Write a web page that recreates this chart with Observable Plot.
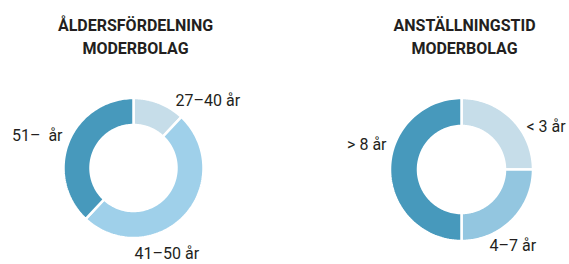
<!DOCTYPE html>
<html>
<head>
<meta charset="utf-8">
<script src="https://cdn.jsdelivr.net/npm/d3@7"></script>
<script src="https://cdn.jsdelivr.net/npm/@observablehq/plot@0.6"></script>
<style>
  html, body { margin: 0; padding: 0; background: #fff; }
  g[aria-label="title"] text { letter-spacing: 1.05px; }
</style>
</head>
<body>
<div id="chart"></div>
<script>
// ---- data ----
const ageTitle = ["ÅLDERSFÖRDELNING", "MODERBOLAG"];
const ageLabels = ["27–40 år", "41–50 år", "51–\u00a0 år"];
const ageValues = [12, 50, 38];
const ageColors = ["#c6dde9", "#9fd0ea", "#4799bc"];

const tenureTitle = ["ANSTÄLLNINGSTID", "MODERBOLAG"];
const tenureLabels = ["< 3 år", "4–7 år", "> 8 år"];
const tenureValues = [25, 25, 50];
const tenureColors = ["#c6dde9", "#93c6e0", "#4799bc"];

// ---- layout ----
const W = 569, H = 264;
const donuts = [
  {title: ageTitle, labels: ageLabels, values: ageValues, colors: ageColors,
   cx: 133.5, cy: 168, rOuter: 70, rInner: 43,
   labelOffsets: [{dx: 41.5, dy: -68, anchor: "start"}, {dx: 0.5, dy: 85, anchor: "start"}, {dx: -71.5, dy: -33, anchor: "end"}],
   titleX: 135},
  {title: tenureTitle, labels: tenureLabels, values: tenureValues, colors: tenureColors,
   cx: 461.5, cy: 169.5, rOuter: 71.5, rInner: 43.5,
   labelOffsets: [{dx: 64.5, dy: -43.5, anchor: "start"}, {dx: 27.5, dy: 75.5, anchor: "start"}, {dx: -75.5, dy: -25.5, anchor: "end"}],
   titleX: 464}
];

const areaRows = [];
const labelRows = [];
const titleRows = [];
const N = 90;
donuts.forEach((d, di) => {
  const slices = d.values.map((v, i) => ({label: d.labels[i], value: v, color: d.colors[i], off: d.labelOffsets[i]}));
  const arcs = d3.pie().sort(null).value(s => s.value)(slices);
  arcs.forEach((a, ai) => {
    for (let k = 0; k <= N; k++) {
      const t = a.startAngle + (a.endAngle - a.startAngle) * k / N;
      areaRows.push({
        key: di + "-" + ai,
        color: a.data.color,
        x1: d.cx + d.rOuter * Math.sin(t), y1: d.cy - d.rOuter * Math.cos(t),
        x2: d.cx + d.rInner * Math.sin(t), y2: d.cy - d.rInner * Math.cos(t)
      });
    }
    labelRows.push({text: a.data.label, x: d.cx + a.data.off.dx, y: d.cy + a.data.off.dy, anchor: a.data.off.anchor});
  });
  d.title.forEach((line, li) => titleRows.push({text: line, x: d.titleX, y: 25.5 + li * 22.6}));
});

const font = "Roboto, 'Liberation Sans', Arial, sans-serif";
const chart = Plot.plot({
  width: W, height: H,
  margin: 0,
  style: {fontFamily: font, background: "#fff", overflow: "visible"},
  x: {domain: [0, W], range: [0, W], axis: null},
  y: {domain: [0, H], range: [0, H], axis: null},
  marks: [
    Plot.area(areaRows, {x1: "x1", y1: "y1", x2: "x2", y2: "y2", z: "key", fill: "color",
      stroke: "#fff", strokeWidth: 2.5, strokeLinejoin: "round", curve: "linear"}),
    Plot.text(labelRows.filter(r => r.anchor === "start"), {x: "x", y: "y", text: "text", textAnchor: "start",
      fontSize: 16, fill: "#231f20"}),
    Plot.text(labelRows.filter(r => r.anchor === "end"), {x: "x", y: "y", text: "text", textAnchor: "end",
      fontSize: 16, fill: "#231f20"}),
    Plot.text(titleRows, {x: "x", y: "y", text: "text", fontSize: 16, fontWeight: "bold", fill: "#231f20", ariaLabel: "title"})
  ]
});
document.getElementById("chart").appendChild(chart);
</script>
</body>
</html>
